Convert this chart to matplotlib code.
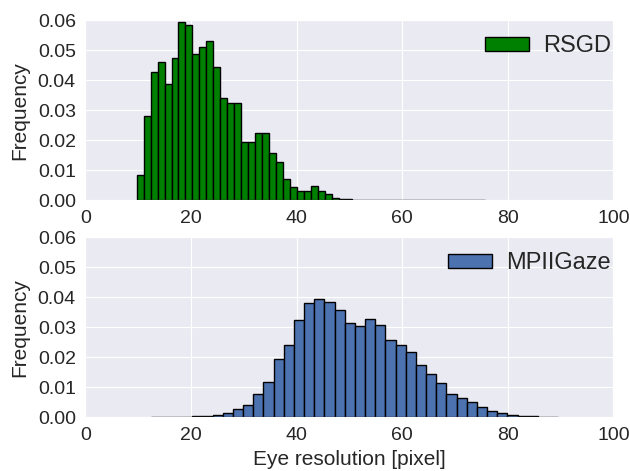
import numpy as np
import matplotlib
matplotlib.use("Agg")
import matplotlib.pyplot as plt
import seaborn as sns

# RSGD: 50 bins between ~9.7 and ~75.6 px
rsgd_lo, rsgd_hi = 9.7, 75.6
rsgd_freq = [0.0084, 0.0282, 0.0427, 0.0460, 0.0387, 0.0473, 0.0593, 0.0583, 0.0487, 0.0510,
             0.0530, 0.0444, 0.0340, 0.0323, 0.0325, 0.0196, 0.0194, 0.0224, 0.0224, 0.0159,
             0.0128, 0.0072, 0.0045, 0.0030, 0.0030, 0.0047, 0.0030, 0.0021, 0.0008, 0.0006,
             0.0003, 0.0002, 0.0001, 0.0001, 0.0001, 0.0001, 0.0001, 0.0000, 0.0001, 0.0000,
             0.0001, 0.0000, 0.0000, 0.0001, 0.0000, 0.0000, 0.0000, 0.0000, 0.0000, 0.0001]

# MPIIGaze: bins of ~1.93 px starting at ~12.5
mpii_lo, mpii_w = 12.5, 1.926
mpii_freq = [0.0001, 0.0001, 0.0001, 0.0002, 0.0003, 0.0005, 0.0009, 0.0015, 0.0027, 0.0040,
             0.0078, 0.0117, 0.0193, 0.0242, 0.0324, 0.0382, 0.0395, 0.0384, 0.0359, 0.0315,
             0.0304, 0.0327, 0.0307, 0.0257, 0.0240, 0.0218, 0.0174, 0.0144, 0.0114, 0.0077,
             0.0064, 0.0052, 0.0034, 0.0022, 0.0013, 0.0008, 0.0005, 0.0003, 0.0002, 0.0001]

sns.set_style("darkgrid")
plt.rcParams['font.family'] = ['Liberation Sans', 'DejaVu Sans']

fig = plt.figure(figsize=(6.3, 4.71), dpi=100)
ax1 = fig.add_axes([0.1357, 0.5747, 0.8381, 0.3822])
ax2 = fig.add_axes([0.1357, 0.1140, 0.8381, 0.3822])

rsgd_edges = np.linspace(rsgd_lo, rsgd_hi, len(rsgd_freq) + 1)
ax1.bar(rsgd_edges[:-1], rsgd_freq, width=np.diff(rsgd_edges), align='edge',
        color='green', edgecolor='black', linewidth=1, label='RSGD')

mpii_left = mpii_lo + mpii_w * np.arange(len(mpii_freq))
ax2.bar(mpii_left, mpii_freq, width=mpii_w, align='edge',
        color='#4C72B0', edgecolor='black', linewidth=1, label='MPIIGaze')

for ax in (ax1, ax2):
    ax.set_xlim(0, 100)
    ax.set_ylim(0, 0.06)
    ax.set_yticks(np.arange(0, 0.061, 0.01))
    ax.set_yticklabels(['%.2f' % v for v in np.arange(0, 0.061, 0.01)])
    ax.tick_params(labelsize=14)
    ax.set_ylabel('Frequency', fontsize=15, labelpad=6)
    ax.legend(loc='upper right', bbox_to_anchor=(1.0, 0.93), fontsize=17,
              frameon=False, handlelength=1.86, handleheight=0.55,
              handletextpad=0.6, borderaxespad=0, borderpad=0.1)

ax2.set_xlabel('Eye resolution [pixel]', fontsize=15)

fig.savefig('out.png', dpi=100)
